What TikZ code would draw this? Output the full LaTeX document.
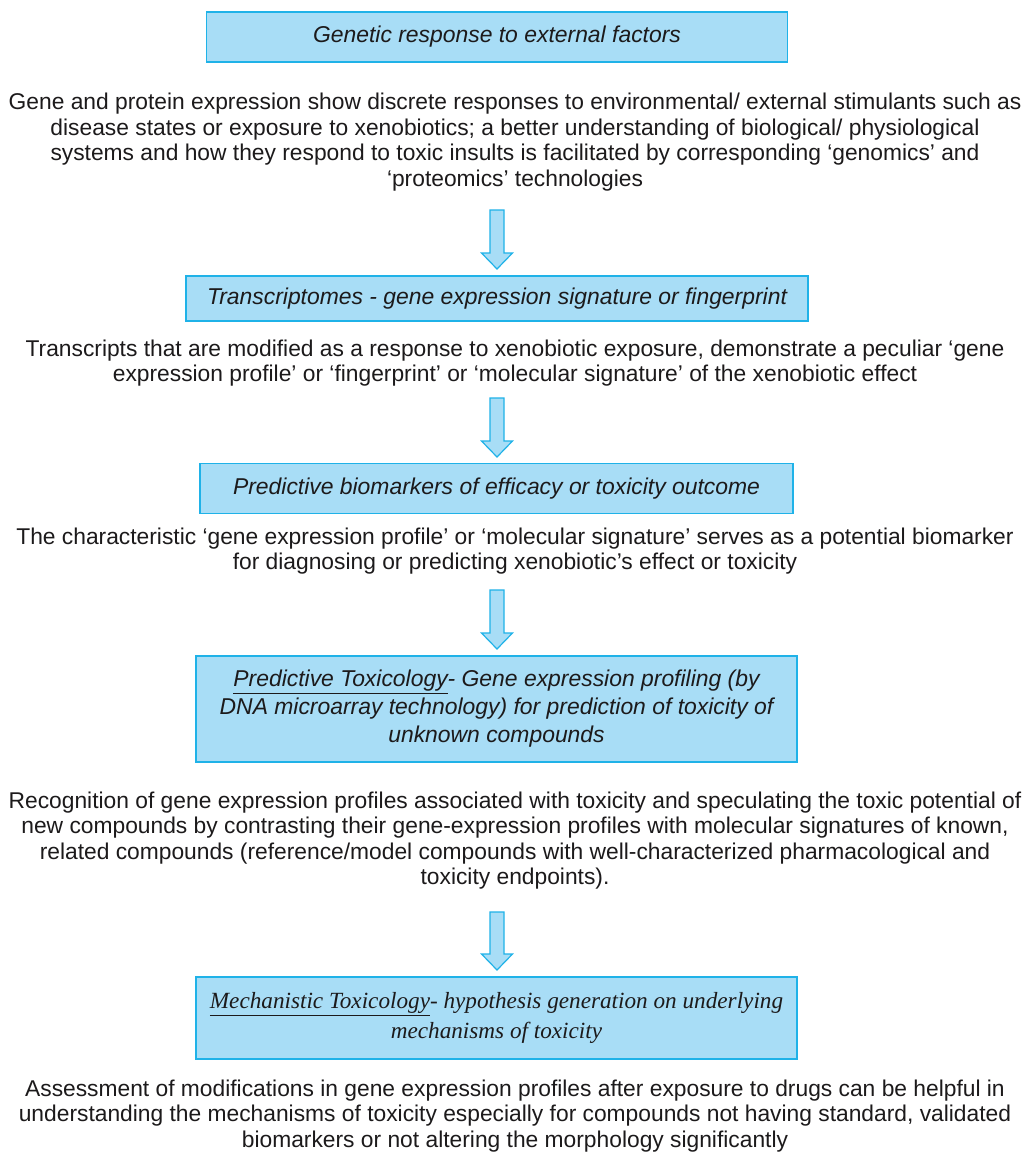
\documentclass[tikz,border=0pt]{standalone}
\usepackage{fontspec}
\setmainfont{Liberation Sans}
\newfontfamily\serifit{Liberation Serif}
\usetikzlibrary{calc}
\definecolor{boxfill}{HTML}{A8DDF6}
\definecolor{boxline}{HTML}{1FB2E8}
\definecolor{txt}{HTML}{1C1A1B}
\tikzset{
  infobox/.style={draw=boxline, fill=boxfill, line width=1.6pt, align=center,
    font=\fontsize{22.9}{28}\selectfont\itshape, text=txt, inner sep=0pt},
  serifbox/.style={infobox, font=\fontsize{23.2}{30}\selectfont\serifit\itshape},
  para/.style={align=center, font=\fontsize{22.8}{25.6}\selectfont, text=txt, inner sep=0pt},
  flowarrow/.style={fill=boxfill, draw=boxline, line width=1.2pt, line join=miter}
}
\newcommand\flowarrowdraw[2]{%
  \draw[flowarrow] ($(#1)+(-7,0)$) -- ($(#1)+(7,0)$) -- ($(#2)+(7,-16)$) -- ($(#2)+(15.5,-16)$)
    -- (#2) -- ($(#2)+(-15.5,-16)$) -- ($(#2)+(-7,-16)$) -- cycle;}
\begin{document}
\begin{tikzpicture}[x=1pt,y=-1pt]
\useasboundingbox[fill=white] (0,0) rectangle (1030,1159);

\node[infobox, minimum width=581pt, minimum height=50pt] (b1) at (497,37)
  {Genetic response to external factors};
\node[para] (p1) at (515,142)
  {Gene and protein expression show discrete responses to environmental/ external stimulants such as\\
   disease states or exposure to xenobiotics; a better understanding of biological/ physiological\\
   systems and how they respond to toxic insults is facilitated by corresponding ‘genomics’ and\\
   ‘proteomics’ technologies};
\coordinate (a1s) at (497,210);
\coordinate (a1e) at (497,269);
\flowarrowdraw{a1s}{a1e}

\node[infobox, minimum width=622pt, minimum height=45pt] (b2) at (497,298.5)
  {Transcriptomes - gene expression signature or fingerprint};
\node[para] (p2) at (515,363)
  {Transcripts that are modified as a response to xenobiotic exposure, demonstrate a peculiar ‘gene\\
   expression profile’ or ‘fingerprint’ or ‘molecular signature’ of the xenobiotic effect};
\coordinate (a2s) at (497,398);
\coordinate (a2e) at (497,457);
\flowarrowdraw{a2s}{a2e}

\node[infobox, minimum width=593pt, minimum height=50pt] (b3) at (496.5,488.5)
  {Predictive biomarkers of efficacy or toxicity outcome};
\node[para] (p3) at (515,551)
  {The characteristic ‘gene expression profile’ or ‘molecular signature’ serves as a potential biomarker\\
   for diagnosing or predicting xenobiotic’s effect or toxicity};
\coordinate (a3s) at (497,590);
\coordinate (a3e) at (497,649);
\flowarrowdraw{a3s}{a3e}

\node[infobox, minimum width=601pt, minimum height=106pt] (b4) at (496.5,709)
  {\underline{Predictive Toxicology}- Gene expression profiling (by\\
   DNA microarray technology) for prediction of toxicity of\\
   unknown compounds};
\node[para] (p4) at (515,840.5)
  {Recognition of gene expression profiles associated with toxicity and speculating the toxic potential of\\
   new compounds by contrasting their gene-expression profiles with molecular signatures of known,\\
   related compounds (reference/model compounds with well-characterized pharmacological and\\
   toxicity endpoints).};
\coordinate (a4s) at (497,912);
\coordinate (a4e) at (497,970);
\flowarrowdraw{a4s}{a4e}

\node[serifbox, minimum width=601pt, minimum height=82pt] (b5) at (496.5,1018)
  {\underline{Mechanistic Toxicology}- hypothesis generation on underlying\\
   mechanisms of toxicity};
\node[para] (p5) at (515,1116)
  {Assessment of modifications in gene expression profiles after exposure to drugs can be helpful in\\
   understanding the mechanisms of toxicity especially for compounds not having standard, validated\\
   biomarkers or not altering the morphology significantly};
\end{tikzpicture}
\end{document}
